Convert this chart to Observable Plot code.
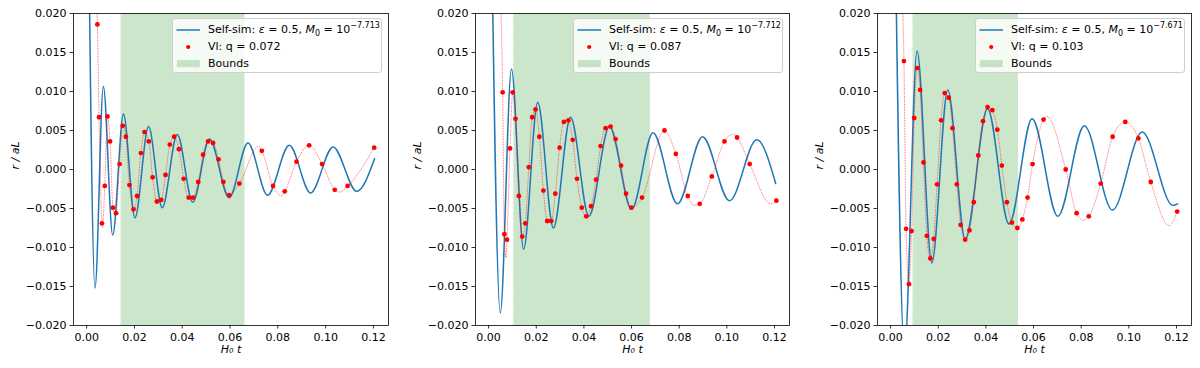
<!DOCTYPE html>
<html>
<head>
<meta charset="utf-8">
<script src="https://cdn.jsdelivr.net/npm/d3@7"></script>
<script src="https://cdn.jsdelivr.net/npm/@observablehq/plot@0.6"></script>
<style>
  body { margin: 0; background: #fff; font-family: "DejaVu Sans", sans-serif; }
  #wrap { position: relative; width: 1200px; height: 368px; overflow: hidden; }
  .panel { position: absolute; top: 0; width: 400px; height: 368px; }
  .legend { position: absolute; top: 18px; width: 210px; height: 55px; box-sizing: border-box;
            border: 1px solid #cfcfcf; border-radius: 3px; background: rgba(255,255,255,0.8);
            font-size: 11px; color: #000; }
  .legend svg { position: absolute; left: 0; top: 0; }
  .lrow { position: absolute; left: 35px; height: 16px; line-height: 16px; white-space: nowrap; }
  .lrow sup { font-size: 8px; vertical-align: 0; position: relative; top: -5px; }
  .lrow sub { font-size: 8px; vertical-align: 0; position: relative; top: 3px; }
</style>
</head>
<body>
<div id="wrap"></div>
<script>
// ---------- data ----------
const xTicks = [0, 0.02, 0.04, 0.06, 0.08, 0.10, 0.12];
const yTicks = [-0.02, -0.015, -0.01, -0.005, 0, 0.005, 0.01, 0.015, 0.02];
const m0Exponents = [-7.713, -7.712, -7.671];
const qValues = [0.072, 0.087, 0.103];

const bounds1 = [0.0143, 0.0663];
const bounds2 = [0.0104, 0.0679];
const bounds3 = [0.0093, 0.0537];

// Self-similar solution: turning points [H0 t, r/aL]
const selfSim1 = [
  [0.0005, 0.040], [0.0035, -0.0152], [0.0070, 0.01065], [0.0109, -0.0084], [0.0154, 0.0071],
  [0.0202, -0.0062], [0.0259, 0.0055], [0.0316, -0.0049], [0.0379, 0.0045], [0.0444, -0.0042],
  [0.0514, 0.0039], [0.0596, -0.00363], [0.0675, 0.0034], [0.0757, -0.0033], [0.0848, 0.0031],
  [0.0937, -0.0030], [0.1031, 0.0029], [0.1130, -0.0028], [0.1205, 0.0014]
];
const selfSim2 = [
  [0.0008, 0.040], [0.0049, -0.0184], [0.0096, 0.0129], [0.0147, -0.0102], [0.0206, 0.0086],
  [0.0272, -0.0075], [0.0344, 0.0067], [0.0421, -0.0060], [0.0507, 0.0055], [0.0600, -0.0051],
  [0.0690, 0.0047], [0.0793, -0.0044], [0.0898, 0.0042], [0.1011, -0.0040], [0.1126, 0.0038],
  [0.1205, -0.0018]
];
const selfSim3 = [
  [0.0015, 0.040], [0.0058, -0.0235], [0.0111, 0.0152], [0.0173, -0.0120], [0.0240, 0.0102],
  [0.0313, -0.0089], [0.0407, 0.0078], [0.0497, -0.0070], [0.0594, 0.0065], [0.0702, -0.0060],
  [0.0813, 0.0056], [0.0931, -0.0052], [0.1056, 0.0048], [0.1185, -0.0046], [0.1205, -0.0044]
];

// Vl: q points (red dots)
const vlDots1 = [
  [0.0045, 0.0186], [0.0052, 0.0067], [0.0064, -0.0069], [0.0076, -0.0021], [0.0087, 0.0068],
  [0.0098, 0.0036], [0.0110, -0.0049], [0.0123, -0.0056], [0.0138, 0.0007], [0.0151, 0.0056],
  [0.0164, 0.0042], [0.0179, -0.0020], [0.0196, -0.0051], [0.0211, -0.0034], [0.0227, 0.0021],
  [0.0242, 0.0048], [0.0260, 0.0036], [0.0276, -0.0010], [0.0294, -0.0041], [0.0312, -0.0039],
  [0.0330, -0.0007], [0.0348, 0.0032], [0.0366, 0.0042], [0.0386, 0.0026], [0.0406, -0.0012],
  [0.0427, -0.0036], [0.0445, -0.0036], [0.0467, -0.0016], [0.0487, 0.0019], [0.0508, 0.0036],
  [0.0529, 0.0034], [0.0552, 0.0013], [0.0572, -0.0016], [0.0596, -0.0033], [0.0639, -0.0018],
  [0.0733, 0.0024], [0.0780, -0.0021], [0.0829, -0.0028], [0.0878, 0.0010], [0.0931, 0.0031],
  [0.0985, 0.0007], [0.1038, -0.0026], [0.1092, -0.0021], [0.1203, 0.0028]
];
const vlDots2 = [
  [0.0059, 0.0099], [0.0066, -0.0083], [0.0077, -0.0090], [0.0090, 0.0027], [0.0101, 0.0099],
  [0.0113, 0.0065], [0.0127, -0.0034], [0.0141, -0.0086], [0.0154, -0.0069], [0.0169, 0.0003],
  [0.0183, 0.0067], [0.0197, 0.0077], [0.0213, 0.0042], [0.0230, -0.0027], [0.0246, -0.0066],
  [0.0263, -0.0066], [0.0280, -0.0031], [0.0298, 0.0028], [0.0316, 0.0061], [0.0335, 0.0063],
  [0.0353, 0.0038], [0.0371, -0.0012], [0.0391, -0.0049], [0.0410, -0.0060], [0.0430, -0.0047],
  [0.0451, -0.0013], [0.0470, 0.0030], [0.0491, 0.0053], [0.0512, 0.0055], [0.0533, 0.0039],
  [0.0556, 0.0005], [0.0577, -0.0031], [0.0599, -0.0049], [0.0644, -0.0036], [0.0738, 0.0050],
  [0.0786, 0.0020], [0.0836, -0.0034], [0.0886, -0.0044], [0.0937, -0.0009], [0.0990, 0.0036],
  [0.1043, 0.0041], [0.1096, 0.0007], [0.1208, -0.0040]
];
const vlDots3 = [
  [0.0056, 0.0139], [0.0065, -0.0076], [0.0077, -0.0147], [0.0088, -0.0079], [0.0099, 0.0066],
  [0.0112, 0.0130], [0.0124, 0.0102], [0.0138, 0.0009], [0.0152, -0.0085], [0.0167, -0.0114],
  [0.0181, -0.0089], [0.0195, -0.0019], [0.0212, 0.0063], [0.0227, 0.0098], [0.0244, 0.0092],
  [0.0260, 0.0053], [0.0278, -0.0019], [0.0294, -0.0071], [0.0313, -0.0090], [0.0331, -0.0078],
  [0.0349, -0.0042], [0.0368, 0.0018], [0.0388, 0.0062], [0.0407, 0.0080], [0.0427, 0.0076],
  [0.0448, 0.0051], [0.0467, 0.0005], [0.0488, -0.0042], [0.0509, -0.0068], [0.0532, -0.0075],
  [0.0553, -0.0064], [0.0575, -0.0036], [0.0596, 0.0007], [0.0642, 0.0064], [0.0735, 0.0000],
  [0.0781, -0.0056], [0.0832, -0.0060], [0.0882, -0.0018], [0.0932, 0.0042], [0.0985, 0.0061],
  [0.1040, 0.0040], [0.1092, -0.0016], [0.1203, -0.0054]
];

// Extra turning points of the dotted Vl curve that fall between the dots
const vlExtra1 = [[0.0036, 0.024], [0.0066, -0.0074], [0.0118, -0.0059], [0.0720, 0.0030], [0.0815, -0.0034], [0.1057, -0.0029]];
const vlExtra2 = [[0.0043, 0.026], [0.0073, -0.0113], [0.0862, -0.0046], [0.1025, 0.0045], [0.1184, -0.0044]];
const vlExtra3 = [[0.0043, 0.026], [0.0656, 0.0068], [0.0806, -0.0065], [0.1169, -0.0072]];

// ---------- layout ----------
const xDomain = [-0.0055, 0.1263];
const layout = [
  {left: 0,   marginLeft: 73, marginRight: 12},
  {left: 400, marginLeft: 75, marginRight: 11},
  {left: 800, marginLeft: 77, marginRight: 9}
];
const panels = [
  {selfSim: selfSim1, vlDots: vlDots1, vlExtra: vlExtra1, bounds: bounds1, m0: m0Exponents[0], q: qValues[0]},
  {selfSim: selfSim2, vlDots: vlDots2, vlExtra: vlExtra2, bounds: bounds2, m0: m0Exponents[1], q: qValues[1]},
  {selfSim: selfSim3, vlDots: vlDots3, vlExtra: vlExtra3, bounds: bounds3, m0: m0Exponents[2], q: qValues[2]}
];

const toObj = a => a.map(([t, r]) => ({t, r}));
const wrap = document.getElementById("wrap");
const fmtExp = d3.format(".3f");
const fmtQ = d3.format(".3f");

panels.forEach((p, i) => {
  const L = layout[i];
  const line = toObj(p.selfSim);
  const dots = toObj(p.vlDots);
  const vlLine = toObj([...p.vlDots, ...p.vlExtra].sort((a, b) => a[0] - b[0]));

  const chart = Plot.plot({
    width: 400, height: 368,
    marginLeft: L.marginLeft, marginRight: L.marginRight, marginTop: 13, marginBottom: 43,
    style: {fontFamily: '"DejaVu Sans", sans-serif', fontSize: "11px", color: "#000", background: "#fff"},
    x: {domain: xDomain},
    y: {domain: [-0.02, 0.02]},
    marks: [
      Plot.rect([p.bounds], {x1: d => d[0], x2: d => d[1], fill: "green", fillOpacity: 0.2}),
      Plot.ruleX(p.bounds, {stroke: "white", strokeOpacity: 0.6, strokeWidth: 1, strokeDasharray: "3.7,1.6"}),
      Plot.line(line, {x: "t", y: "r", curve: "monotone-x", stroke: "#1f77b4", strokeWidth: 1.5, clip: true}),
      Plot.line(vlLine, {x: "t", y: "r", curve: "monotone-x", stroke: "red", strokeOpacity: 0.45, strokeWidth: 1, strokeDasharray: "1,1.65", clip: true}),
      Plot.dot(dots, {x: "t", y: "r", r: 2.4, fill: "red", stroke: "none", clip: true}),
      Plot.axisX({ticks: xTicks, tickFormat: d3.format(".2f"), tickSize: 3.5, tickPadding: 4.5, label: null, strokeWidth: 0.8}),
      Plot.axisY({ticks: yTicks, tickFormat: d3.format(".3f"), tickSize: 3.5, tickPadding: 3.5, label: null, strokeWidth: 0.8}),
      Plot.text(["H₀ t"], {frameAnchor: "bottom", dy: 27, fontStyle: "italic", fontSize: 11}),
      Plot.text(["r / aL"], {frameAnchor: "left", dx: -58, rotate: -90, fontStyle: "italic", fontSize: 11}),
      Plot.frame({stroke: "black", strokeWidth: 0.8})
    ]
  });

  const panel = document.createElement("div");
  panel.className = "panel";
  panel.style.left = L.left + "px";
  panel.appendChild(chart);

  const frameRight = 400 - L.marginRight;
  const legend = document.createElement("div");
  legend.className = "legend";
  legend.style.left = (frameRight - 6 - 210) + "px";
  legend.innerHTML = `
    <svg width="32" height="54">
      <line x1="3.5" x2="27" y1="11" y2="11" stroke="#1f77b4" stroke-width="1.5"></line>
      <circle cx="15.2" cy="28" r="2.1" fill="red"></circle>
      <rect x="3.5" y="40.8" width="23.5" height="7.6" fill="green" fill-opacity="0.2"
            stroke="white" stroke-opacity="0.6" stroke-dasharray="3.7,1.6"></rect>
    </svg>
    <div class="lrow" style="top:3px">Self-sim: <i>ε</i> = 0.5, <i>M</i><sub>0</sub> = 10<sup>${fmtExp(p.m0)}</sup></div>
    <div class="lrow" style="top:20px">Vl: q = ${fmtQ(p.q)}</div>
    <div class="lrow" style="top:37px">Bounds</div>`;
  panel.appendChild(legend);
  wrap.appendChild(panel);
});
</script>
</body>
</html>
